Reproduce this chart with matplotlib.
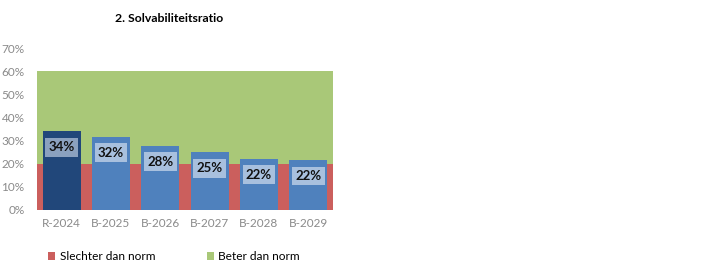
import numpy as np
import matplotlib.pyplot as plt

plt.rcParams['font.family'] = ['Lato', 'DejaVu Sans']

categories = ['R-2024', 'B-2025', 'B-2026', 'B-2027', 'B-2028', 'B-2029']
values = [34.0, 31.7, 27.8, 24.9, 22.2, 21.6]
labels = ['34%', '32%', '28%', '25%', '22%', '22%']
norm_low = 20
norm_high = 60

red = '#CB5F5D'
green = '#A9C878'
blue = '#4F81BD'
dark_blue = '#21477A'

fig = plt.figure(figsize=(7.04, 2.72), dpi=100)
ax = fig.add_axes([37 / 704, 1 - 210 / 272, 296 / 704, 162 / 272])

ax.axhspan(0, norm_low, color=red, lw=0, label='Slechter dan norm')
ax.axhspan(norm_low, norm_high, color=green, lw=0, label='Beter dan norm')

x = np.arange(len(categories))
colors = [dark_blue] + [blue] * (len(categories) - 1)
ax.bar(x, values, width=0.77, color=colors, zorder=2)

# data labels in light boxes near the top of each bar
for i, (v, lab) in enumerate(zip(values, labels)):
    box = '#8BA1BF' if i == 0 else '#A8C0DE'
    ax.text(i, v - 6.9, lab, ha='center', va='center', fontsize=9.5, fontweight='bold',
            color='#111111', zorder=3,
            bbox=dict(boxstyle='square,pad=0.26', fc=box, ec='none'))

ax.set_xlim(-0.5, len(categories) - 0.5)
ax.set_ylim(0, 70)
ax.set_yticks(range(0, 71, 10))
ax.set_yticklabels([f'{t}%' for t in range(0, 71, 10)])
ax.set_xticks(x)
ax.set_xticklabels(categories)
ax.tick_params(length=0, labelsize=8.5, colors='#8A8A8A', pad=6)
ax.tick_params(axis='y', pad=9)
for s in ax.spines.values():
    s.set_visible(False)

fig.text(169 / 704, 1 - 18 / 272, '2. Solvabiliteitsratio', ha='center', va='center',
         fontsize=8.8, fontweight='bold')

ax.legend(loc='center left', bbox_to_anchor=(0.02, -0.29), ncol=2, frameon=False,
          handlelength=0.6, handleheight=0.6, handletextpad=0.4, columnspacing=4.3,
          fontsize=8.6, borderaxespad=0)

fig.savefig('out.png', dpi=100)
